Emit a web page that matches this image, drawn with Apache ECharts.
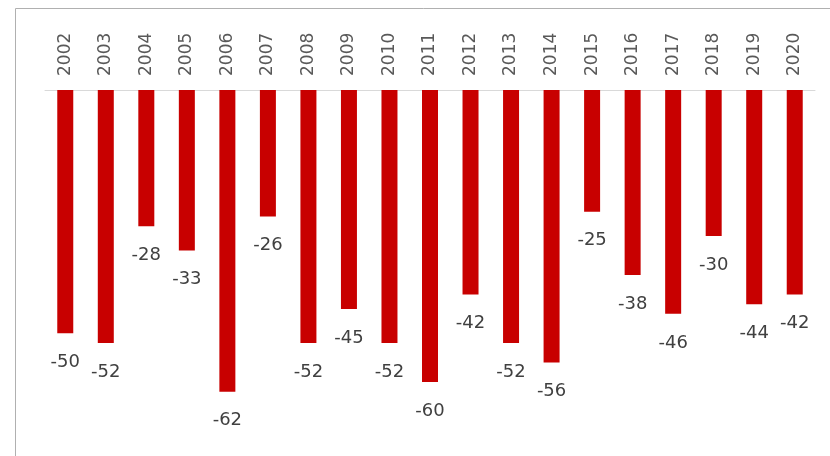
<!DOCTYPE html>
<html>
<head>
<meta charset="utf-8">
<script src="https://cdn.jsdelivr.net/npm/echarts@6/dist/echarts.min.js"></script>
<style>
  html, body { margin: 0; padding: 0; background: #fff; }
  #main { width: 830px; height: 456px; }
</style>
</head>
<body>
<div id="main"></div>
<script>
const years = ['2002', '2003', '2004', '2005', '2006', '2007', '2008', '2009', '2010', '2011',
  '2012', '2013', '2014', '2015', '2016', '2017', '2018', '2019', '2020'];
const values = [-50, -52, -28, -33, -62, -26, -52, -45, -52, -60,
  -42, -52, -56, -25, -38, -46, -30, -44, -42];

const chart = echarts.init(document.getElementById('main'));

const option = {
  animation: false,
  textStyle: { fontFamily: 'DejaVu Sans' },
  // frame around the chart area
  graphic: [{
    type: 'rect',
    shape: { x: 15.5, y: 8.5, width: 830, height: 460 },
    style: { fill: 'none', stroke: '#b0b0b0', lineWidth: 1 },
    silent: true
  }],
  grid: { left: 45, right: 15, top: 90, height: 365, containLabel: false },
  xAxis: {
    type: 'category',
    position: 'top',
    data: years,
    axisLine: { show: true, lineStyle: { color: '#d9d9d9', width: 1 } },
    axisTick: { show: false },
    axisLabel: { rotate: 90, margin: 14, fontSize: 17, color: '#595959' }
  },
  yAxis: {
    type: 'value',
    min: -75,
    max: 0,
    show: false,
    splitLine: { show: false }
  },
  series: [{
    type: 'bar',
    data: values,
    barWidth: 16,
    itemStyle: { color: '#c80000' },
    label: {
      show: true,
      position: 'bottom',
      distance: 20,
      fontSize: 18,
      color: '#404040'
    }
  }]
};

chart.setOption(option);
</script>
</body>
</html>
